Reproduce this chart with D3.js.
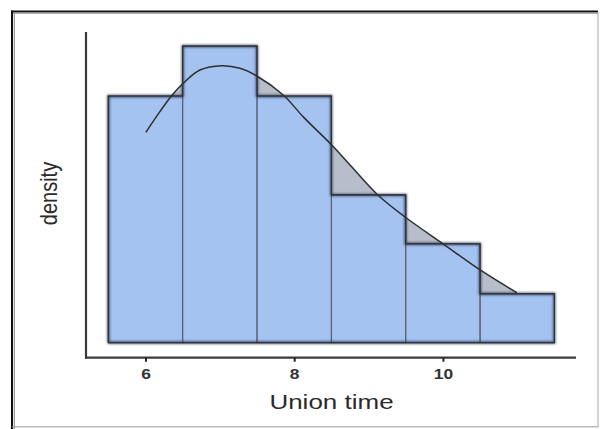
<!DOCTYPE html>
<html>
<head>
<meta charset="utf-8">
<script src="https://cdn.jsdelivr.net/npm/d3@7"></script>
<style>
  html, body { margin: 0; padding: 0; background: #ffffff; }
  svg { display: block; }
</style>
</head>
<body>
<div id="chart"></div>
<script>
// ---- data ----
const binStarts = [5.5, 6.5, 7.5, 8.5, 9.5, 10.5];
const binEnds   = [6.5, 7.5, 8.5, 9.5, 10.5, 11.5];
const densities = [0.227, 0.273, 0.227, 0.136, 0.091, 0.045];

const curveX = [6.005, 6.194, 6.351, 6.507, 6.732, 7.024, 7.271, 7.503, 7.853, 8.122, 8.505, 8.751, 9.121, 9.505, 10.007, 10.501, 10.995];
const curveY = [0.1936, 0.2126, 0.2273, 0.2387, 0.2509, 0.2549, 0.2525, 0.2452, 0.2279, 0.2078, 0.1819, 0.1635, 0.1362, 0.1150, 0.0908, 0.0669, 0.0460];

const xTicks = [6, 8, 10];
const xTitle = "Union time";
const yTitle = "density";

// ---- layout ----
const W = 601, H = 429;
const svg = d3.select("#chart").append("svg")
  .attr("width", W).attr("height", H);

const x = d3.scaleLinear().domain([5.2, 11.79]).range([86, 576]);
const y = d3.scaleLinear().domain([-0.0138, 0.2859]).range([357.7, 32]);

const defs = svg.append("defs");
const blur = defs.append("filter").attr("id", "soft")
  .attr("x", "-10%").attr("y", "-10%").attr("width", "120%").attr("height", "120%");
blur.append("feGaussianBlur").attr("stdDeviation", 1.1);

const inner = defs.append("filter").attr("id", "innerShadow")
  .attr("x", "-5%").attr("y", "-5%").attr("width", "110%").attr("height", "110%");
inner.append("feFlood").attr("flood-color", "#2a3550").attr("flood-opacity", 0.55).attr("result", "flood");
inner.append("feComposite").attr("in", "flood").attr("in2", "SourceAlpha").attr("operator", "out").attr("result", "outside");
inner.append("feGaussianBlur").attr("in", "outside").attr("stdDeviation", 2.2).attr("result", "blurred");
inner.append("feComposite").attr("in", "blurred").attr("in2", "SourceAlpha").attr("operator", "in").attr("result", "shadow");
const m = inner.append("feMerge");
m.append("feMergeNode").attr("in", "SourceGraphic");
m.append("feMergeNode").attr("in", "shadow");

// ---- frame ----
svg.append("line").attr("x1", 11).attr("x2", 598).attr("y1", 11.5).attr("y2", 11.5)
  .attr("stroke", "#111").attr("stroke-width", 2);
svg.append("line").attr("x1", 11).attr("x2", 598).attr("y1", 13.3).attr("y2", 13.3)
  .attr("stroke", "#999").attr("stroke-width", 1);
svg.append("line").attr("x1", 12).attr("x2", 12).attr("y1", 10.5).attr("y2", 429)
  .attr("stroke", "#111").attr("stroke-width", 2);
svg.append("line").attr("x1", 14.3).attr("x2", 14.3).attr("y1", 12).attr("y2", 429)
  .attr("stroke", "#888").attr("stroke-width", 1);
svg.append("line").attr("x1", 598).attr("x2", 598).attr("y1", 12).attr("y2", 427)
  .attr("stroke", "#aaa").attr("stroke-width", 1);
svg.append("line").attr("x1", 12).attr("x2", 598).attr("y1", 426.8).attr("y2", 426.8)
  .attr("stroke", "#999").attr("stroke-width", 1);

const bins = binStarts.map((s, i) => ({ x0: s, x1: binEnds[i], d: densities[i] }));
const pts = curveX.map((v, i) => [v, curveY[i]]);

// ---- area under density (visible only above bars) ----
const area = d3.area()
  .x(p => x(p[0])).y0(y(0)).y1(p => y(p[1]))
  .curve(d3.curveCatmullRom);
svg.append("path").datum(pts).attr("d", area)
  .attr("fill", "#b7bdcb");

// ---- bars ----
const barsG = svg.append("g").attr("filter", "url(#innerShadow)");
barsG.selectAll("rect").data(bins).join("rect")
  .attr("x", b => x(b.x0)).attr("width", b => x(b.x1) - x(b.x0))
  .attr("y", b => y(b.d)).attr("height", b => y(0) - y(b.d))
  .attr("fill", "#a4c3f1");
svg.append("g").selectAll("rect").data(bins).join("rect")
  .attr("x", b => x(b.x0)).attr("width", b => x(b.x1) - x(b.x0))
  .attr("y", b => y(b.d)).attr("height", b => y(0) - y(b.d))
  .attr("fill", "none").attr("stroke", "#566070").attr("stroke-width", 1);

// silhouette outline
const stepPts = [];
stepPts.push([bins[0].x0, 0]);
bins.forEach(b => { stepPts.push([b.x0, b.d]); stepPts.push([b.x1, b.d]); });
stepPts.push([bins[bins.length - 1].x1, 0]);
stepPts.push([bins[0].x0, 0]);
const outline = d3.line().x(p => x(p[0])).y(p => y(p[1]));
svg.append("path").datum(stepPts).attr("d", outline)
  .attr("fill", "none").attr("stroke", "#1e2330").attr("stroke-width", 2.4)
  .attr("stroke-opacity", 0.7).attr("filter", "url(#soft)");
svg.append("path").datum(stepPts).attr("d", outline)
  .attr("fill", "none").attr("stroke", "#2b2f38").attr("stroke-width", 1.1);

// ---- density curve ----
const line = d3.line().x(p => x(p[0])).y(p => y(p[1])).curve(d3.curveCatmullRom);
svg.append("path").datum(pts).attr("d", line)
  .attr("fill", "none").attr("stroke", "#2e2e2e").attr("stroke-width", 1.5);

// ---- axes ----
const xAxis = d3.axisBottom(x).tickValues(xTicks).tickSize(4).tickPadding(6).tickFormat(d3.format("d"));
const gx = svg.append("g").attr("transform", `translate(0,${y.range()[0]})`).call(xAxis);
gx.select(".domain").attr("d", `M${x.range()[0] - 1},0H${x.range()[1]}`)
  .attr("stroke", "#3a3a3a").attr("stroke-width", 2.2);
gx.selectAll(".tick line").attr("stroke", "#222").attr("stroke-width", 2);
gx.selectAll(".tick text")
  .attr("fill", "#333").attr("font-family", "Liberation Sans, Arial, sans-serif")
  .attr("font-size", 15.5).attr("font-weight", "bold")
  .attr("dy", "0.71em")
  .attr("transform", "scale(1.12,1)");

const yAxis = d3.axisLeft(y).tickValues([]).tickSize(0);
const gy = svg.append("g").attr("transform", `translate(${x.range()[0]},0)`).call(yAxis);
gy.select(".domain").attr("d", `M0,${y.range()[1]}V${y.range()[0] + 1}`)
  .attr("stroke", "#3a3a3a").attr("stroke-width", 2.2);

// ---- titles ----
svg.append("text")
  .attr("transform", `translate(${(269 + 394) / 2},409.3) scale(1.3,1)`)
  .attr("text-anchor", "middle")
  .attr("font-family", "Liberation Sans, Arial, sans-serif")
  .attr("font-size", 20).attr("fill", "#2a2a2a")
  .text(xTitle);

svg.append("text")
  .attr("transform", `translate(57,193.5) scale(1.19,1) rotate(-90)`)
  .attr("text-anchor", "middle")
  .attr("font-family", "Liberation Sans, Arial, sans-serif")
  .attr("font-size", 20).attr("fill", "#2a2a2a")
  .text(yTitle);
</script>
</body>
</html>
